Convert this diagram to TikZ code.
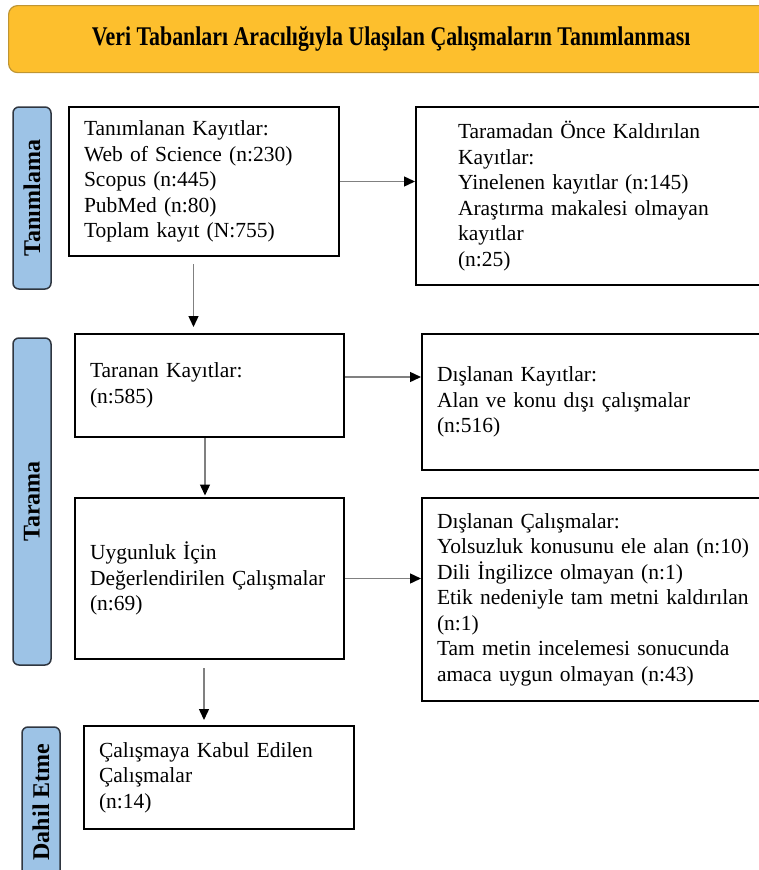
\documentclass[tikz,border=0pt]{standalone}
\usepackage{fontspec}
\setmainfont{Liberation Serif}
\usepackage{xcolor}
\usepackage{tikz}
\usetikzlibrary{arrows.meta,positioning,calc}

\definecolor{titlefill}{HTML}{FDBF2D}
\definecolor{titledraw}{HTML}{BF9532}
\definecolor{barfill}{HTML}{9DC3E6}
\definecolor{bardraw}{HTML}{2F3640}
\definecolor{arrgray}{HTML}{808080}

\begin{document}
\begin{tikzpicture}[
  x=1pt,y=-1pt,
  box/.style={draw,line width=2pt,align=left,inner xsep=15pt,inner ysep=0pt,font=\fontsize{21.5}{25.5}\selectfont},
  sidebar/.style={draw=bardraw,line width=1.5pt,fill=barfill,rounded corners=6pt,rotate=90,minimum height=38pt,inner sep=0pt,font=\fontsize{24}{24}\selectfont\bfseries},
  titlebox/.style={draw=titledraw,line width=1.2pt,fill=titlefill,rounded corners=9pt,minimum width=765pt,minimum height=67pt,font=\fontsize{27}{27}\selectfont\bfseries},
  arr/.style={draw=arrgray,line width=1.4pt,-{Triangle[length=11pt,width=10pt,color=black]}}
]
\useasboundingbox (0,0) rectangle (759,870);

% baslik
\node[titlebox,anchor=north west] (title) at (8,5) {\scalebox{0.81}[1]{Veri Tabanları Aracılığıyla Ulaşılan Çalışmaların Tanımlanması}};

% asamalar
\node[sidebar,minimum width=182pt] (tanim) at (32,198) {Tanımlama};
\node[sidebar,minimum width=327pt] (tarama) at (32,501.5) {Tarama};
\node[sidebar,minimum width=150pt] (dahil) at (41,802) {Dahil Etme};

% kutular
\node[box,anchor=north west,text width=240pt,minimum height=149pt] (tanimlanan) at (68,106)
  {Tanımlanan Kayıtlar:\\Web of Science (n:230)\\Scopus (n:445)\\PubMed (n:80)\\Toplam kayıt (N:755)};
\node[box,right=75pt of tanimlanan.north east,anchor=north west,inner xsep=42pt,text width=270pt,minimum height=178pt] (kaldirilan)
  {Taramadan Önce Kaldırılan\\Kayıtlar:\\Yinelenen kayıtlar (n:145)\\Araştırma makalesi olmayan\\kayıtlar\\(n:25)};
\node[box,below=76pt of tanimlanan.south west,anchor=north west,xshift=6pt,text width=239pt,minimum height=103pt] (taranan)
  {Taranan Kayıtlar:\\(n:585)};
\node[box,right=76pt of taranan.north east,anchor=north west,text width=319pt,minimum height=136pt] (dislanan)
  {Dışlanan Kayıtlar:\\Alan ve konu dışı çalışmalar\\(n:516)};
\node[box,below=59pt of taranan.south west,anchor=north west,text width=239pt,minimum height=161pt] (uygunluk)
  {Uygunluk İçin\\Değerlendirilen Çalışmalar\\(n:69)};
\node[box,right=76pt of uygunluk.north east,anchor=north west,text width=319pt,minimum height=203pt] (dislcalis)
  {Dışlanan Çalışmalar:\\Yolsuzluk konusunu ele alan (n:10)\\Dili İngilizce olmayan (n:1)\\Etik nedeniyle tam metni kaldırılan\\(n:1)\\Tam metin incelemesi sonucunda\\amaca uygun olmayan (n:43)};
\node[box,below=65pt of uygunluk.south west,anchor=north west,xshift=9pt,text width=240pt,minimum height=103pt] (kabul)
  {Çalışmaya Kabul Edilen\\Çalışmalar\\(n:14)};

% oklar
\draw[arr] (tanimlanan.east) -- (tanimlanan.east -| kaldirilan.west);
\draw[arr,shorten <=7pt,shorten >=6pt] ([xshift=-10.5pt]tanimlanan.south) -- ([xshift=-10.5pt]tanimlanan.south |- taranan.north);
\draw[arr] ([yshift=8.5pt]taranan.east) -- ([yshift=8.5pt]taranan.east -| dislanan.west);
\draw[arr,shorten >=1.5pt] ([xshift=-4.5pt]taranan.south) -- ([xshift=-4.5pt]taranan.south |- uygunluk.north);
\draw[arr] (uygunluk.east) -- (uygunluk.east -| dislcalis.west);
\draw[arr,shorten <=8pt,shorten >=5pt] ([xshift=-5.5pt]uygunluk.south) -- ([xshift=-5.5pt]uygunluk.south |- kabul.north);
\end{tikzpicture}
\end{document}
